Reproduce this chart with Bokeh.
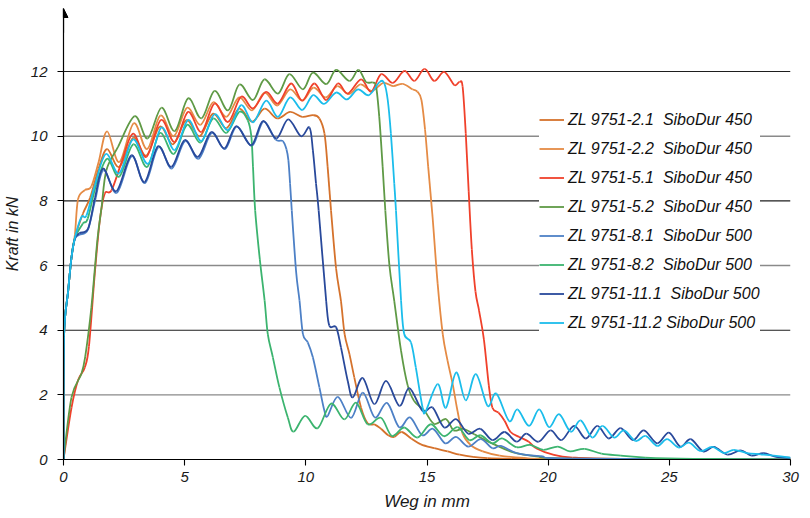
import numpy as np
from bokeh.plotting import figure
from bokeh.models import (Range1d, FixedTicker, Span, Arrow, NormalHead, Legend,
                          LegendItem, ColumnDataSource)
from bokeh.embed import file_html
from bokeh.resources import INLINE

# ---------------- data (x in mm, y in kN) ----------------
NAMES = ["ZL 9751-2.1  SiboDur 450", "ZL 9751-2.2  SiboDur 450",
         "ZL 9751-5.1  SiboDur 450", "ZL 9751-5.2  SiboDur 450",
         "ZL 9751-8.1  SiboDur 500", "ZL 9751-8.2  SiboDur 500",
         "ZL 9751-11.1  SiboDur 500", "ZL 9751-11.2 SiboDur 500"]
COLORS = ["#D5722C", "#E58B45", "#F0412B", "#5F9A46",
          "#4D80C6", "#3CB46F", "#29499B", "#1BBDEB"]

S21 = [(0, 0), (0.02, 3.8), (0.19, 5.2), (0.33, 6.25), (0.47, 6.85), (0.8, 7.6), (1.1, 8.1),
       (1.45, 9.0), (1.8, 9.6), (2.3, 9.05), (2.88, 9.95), (3.42, 9.4), (3.98, 10.3), (4.52, 9.75),
       (5.07, 10.5), (5.62, 10.0), (6.17, 10.7), (6.72, 10.25), (7.25, 10.85), (7.78, 10.45),
       (8.3, 10.85), (8.82, 10.55), (9.35, 10.75), (9.85, 10.6), (10.3, 10.65), (10.56, 10.55),
       (10.77, 10.08), (10.9, 9.05), (11.04, 7.7), (11.25, 5.9), (11.45, 4.9), (11.6, 3.88),
       (11.8, 3.26), (12.0, 2.54), (12.28, 1.6), (12.55, 1.12), (12.85, 1.08), (13.1, 0.95),
       (13.4, 0.75), (13.65, 0.7), (13.95, 0.85), (14.35, 0.65), (14.75, 0.47), (15.3, 0.35),
       (15.85, 0.25), (16.35, 0.15), (16.9, 0.08), (17.5, 0.04), (18.5, 0.02), (20, 0.01), (30, 0)]

S22 = [(0, 0), (0.02, 3.8), (0.19, 5.2), (0.33, 6.25), (0.47, 6.95), (0.6, 8.05), (0.88, 8.33),
       (1.15, 8.45), (1.45, 9.2), (1.8, 10.15), (2.3, 9.2), (2.9, 10.4), (3.45, 9.6), (4.0, 10.64),
       (4.55, 10.0), (5.1, 10.88), (5.65, 10.35), (6.18, 11.05), (6.72, 10.6), (7.25, 11.2),
       (7.78, 10.8), (8.3, 11.35), (8.82, 10.95), (9.35, 11.45), (9.85, 11.1), (10.32, 11.5),
       (10.82, 11.2), (11.3, 11.55), (11.78, 11.3), (12.25, 11.6), (12.72, 11.4), (13.2, 11.65),
       (13.6, 11.55), (14.0, 11.62), (14.4, 11.45), (14.6, 11.38), (14.77, 11.12), (14.92, 10.2),
       (15.05, 9.05), (15.23, 7.5), (15.44, 5.43), (15.65, 3.88), (15.85, 3.05), (16.06, 2.33),
       (16.26, 1.5), (16.47, 0.8), (16.8, 0.45), (17.3, 0.25), (18.0, 0.12), (19.0, 0.05),
       (20.5, 0.02), (30, 0)]

S51 = [(0, 0), (0.33, 1.6), (0.6, 2.45), (0.88, 2.85), (1.05, 3.5), (1.29, 5.74), (1.5, 7.4),
       (1.7, 8.22), (1.98, 8.32), (2.4, 9.2), (2.87, 10.08), (3.42, 9.36), (4.02, 10.5),
       (4.59, 9.82), (5.14, 10.75), (5.69, 10.13), (6.23, 11.01), (6.79, 10.44), (7.33, 11.22),
       (7.82, 10.86), (8.36, 11.37), (8.85, 11.01), (9.39, 11.63), (9.85, 11.1), (10.35, 11.63),
       (10.84, 11.12), (11.32, 11.63), (11.73, 11.32), (12.28, 11.76), (12.69, 11.37),
       (13.11, 11.92), (13.59, 11.65), (14.07, 12.02), (14.48, 11.71), (14.9, 12.08),
       (15.3, 11.71), (15.71, 11.99), (16.13, 11.58), (16.34, 11.68), (16.47, 11.53),
       (16.6, 10.08), (16.72, 8.3), (16.85, 6.5), (17.0, 5.2), (17.15, 4.6), (17.35, 3.7),
       (17.55, 2.3), (17.7, 1.6), (17.95, 1.45), (18.2, 1.2), (18.45, 0.85), (18.8, 0.7),
       (19.2, 0.55), (19.5, 0.35), (20.2, 0.15), (21.0, 0.06), (23.0, 0.02), (30, 0)]

S52 = [(0, 0), (0.33, 1.92), (0.74, 2.65), (0.9, 3.2), (1.15, 4.7), (1.4, 6.8), (1.57, 7.8),
       (1.77, 8.95), (2.25, 9.67), (2.94, 10.62), (3.47, 9.93), (4.04, 10.88), (4.59, 10.16),
       (5.14, 11.17), (5.69, 10.55), (6.23, 11.4), (6.79, 10.8), (7.26, 11.6), (7.82, 11.12),
       (8.29, 11.76), (8.85, 11.32), (9.32, 11.92), (9.88, 11.45), (10.29, 11.97), (10.84, 11.61),
       (11.25, 12.05), (11.8, 11.71), (12.17, 12.05), (12.48, 11.68), (12.76, 11.66),
       (12.9, 11.53), (13.03, 10.6), (13.17, 9.05), (13.28, 7.7), (13.45, 6.0), (13.65, 4.9),
       (13.93, 3.36), (14.2, 2.3), (14.47, 1.81), (14.9, 1.5), (15.3, 1.1), (15.78, 1.25),
       (16.1, 0.9), (16.5, 0.95), (16.95, 0.78), (17.4, 0.6), (17.77, 0.47), (18.6, 0.21),
       (19.5, 0.1), (21, 0.03), (30, 0)]

S81 = [(0, 0), (0.02, 3.8), (0.19, 5.2), (0.33, 6.25), (0.47, 6.83), (0.66, 6.95), (1.0, 7.1),
       (1.3, 8.0), (1.65, 8.95), (2.2, 8.25), (2.82, 9.38), (3.36, 8.55), (3.92, 9.66), (4.47, 9.0),
       (5.02, 9.85), (5.57, 9.3), (6.12, 10.1), (6.66, 9.6), (7.15, 10.3), (7.77, 9.7),
       (8.25, 10.45), (8.75, 9.9), (9.05, 9.85), (9.2, 9.6), (9.28, 9.26), (9.35, 8.53),
       (9.42, 7.7), (9.6, 5.8), (9.74, 4.91), (9.88, 3.88), (10.08, 3.62), (10.29, 3.16),
       (10.56, 2.23), (10.77, 1.5), (10.9, 1.35), (11.32, 1.94), (11.87, 1.29), (12.35, 2.07),
       (12.85, 1.3), (13.35, 1.75), (13.85, 1.0), (14.3, 1.3), (14.8, 0.75), (15.25, 0.95),
       (15.75, 0.5), (16.2, 0.7), (16.7, 0.4), (17.22, 0.63), (17.7, 0.35), (18.05, 0.42),
       (18.7, 0.2), (19.7, 0.1), (21, 0.03), (30, 0)]

S82 = [(0, 0), (0.02, 3.8), (0.19, 5.2), (0.33, 6.25), (0.47, 6.85), (0.8, 7.3), (1.0, 7.45),
       (1.35, 8.5), (1.8, 9.3), (2.3, 8.75), (2.88, 9.75), (3.45, 9.05), (3.98, 10.1), (4.55, 9.45),
       (5.1, 10.35), (5.65, 9.8), (6.18, 10.55), (6.72, 10.1), (7.25, 10.75), (7.6, 10.5),
       (7.75, 10.0), (7.82, 9.05), (7.91, 7.7), (8.1, 6.2), (8.3, 4.91), (8.43, 3.88),
       (8.64, 3.16), (8.91, 2.23), (9.26, 1.29), (9.5, 0.86), (9.97, 1.35), (10.49, 0.97),
       (11.04, 1.73), (11.59, 1.24), (12.07, 1.76), (12.55, 1.09), (13.1, 1.29), (13.55, 0.73),
       (14.06, 0.99), (14.6, 0.68), (15.16, 1.09), (15.7, 0.72), (16.26, 1.0), (16.75, 0.6),
       (17.2, 0.75), (17.7, 0.5), (18.1, 0.65), (18.7, 0.38), (19.25, 0.45), (19.8, 0.3),
       (20.4, 0.4), (20.9, 0.25), (21.5, 0.33), (22.2, 0.18), (23.0, 0.12), (24.0, 0.06),
       (26.0, 0.02), (30, 0)]

S111 = [(0, 0), (0.02, 3.8), (0.19, 5.2), (0.33, 6.25), (0.47, 6.83), (0.66, 7.0), (1.02, 7.15),
        (1.3, 8.1), (1.63, 9.0), (2.18, 8.3), (2.8, 9.41), (3.34, 8.58), (3.9, 9.69), (4.45, 9.05),
        (5.0, 9.88), (5.55, 9.36), (6.1, 10.13), (6.64, 9.62), (7.13, 10.31), (7.75, 9.72),
        (8.23, 10.47), (8.78, 9.93), (9.27, 10.52), (9.8, 10.0), (10.15, 10.27), (10.29, 9.57),
        (10.42, 8.54), (10.53, 7.7), (10.84, 4.9), (10.97, 4.14), (11.25, 4.09), (11.45, 3.47),
        (11.73, 2.43), (11.94, 1.92), (12.35, 2.52), (12.83, 1.71), (13.31, 2.43), (13.86, 1.66),
        (14.27, 2.21), (14.82, 1.5), (15.23, 1.61), (15.71, 0.99), (16.2, 1.25), (16.7, 0.8),
        (17.2, 0.95), (17.7, 0.6), (18.2, 0.85), (18.7, 0.55), (19.1, 0.8), (19.6, 0.55),
        (20.1, 0.9), (20.55, 0.6), (21.07, 1.04), (21.55, 0.65), (22.03, 1.04), (22.5, 0.65),
        (22.99, 0.97), (23.5, 0.6), (23.95, 0.9), (24.5, 0.5), (24.98, 0.83), (25.45, 0.4),
        (25.88, 0.63), (26.4, 0.25), (26.84, 0.39), (27.4, 0.15), (27.94, 0.28), (28.4, 0.12),
        (28.9, 0.2), (29.4, 0.08), (30, 0.05)]

S112 = [(0, 0), (0.02, 3.8), (0.19, 5.2), (0.33, 6.25), (0.47, 6.85), (0.74, 7.5), (0.95, 7.55),
        (1.3, 8.5), (1.75, 9.45), (2.3, 8.85), (2.87, 9.9), (3.49, 9.15), (4.04, 10.27),
        (4.59, 9.57), (5.14, 10.5), (5.69, 9.85), (6.23, 10.68), (6.79, 10.19), (7.33, 10.96),
        (7.82, 10.43), (8.36, 11.1), (8.85, 10.6), (9.35, 11.2), (9.85, 10.81), (10.3, 11.27),
        (10.75, 11.0), (11.25, 11.35), (11.7, 11.14), (12.15, 11.45), (12.6, 11.27),
        (13.05, 11.68), (13.24, 11.63), (13.38, 11.12), (13.51, 10.08), (13.65, 8.53),
        (13.72, 7.7), (13.93, 4.91), (14.06, 3.88), (14.34, 3.62), (14.54, 2.84), (14.82, 1.6),
        (14.95, 1.5), (15.44, 2.33), (15.78, 1.6), (16.2, 2.69), (16.6, 1.83), (17.02, 2.64),
        (17.5, 1.66), (17.86, 2.04), (18.39, 1.19), (18.73, 1.55), (19.21, 1.04), (19.63, 1.55),
        (20.04, 1.0), (20.45, 1.4), (20.93, 0.86), (21.34, 1.21), (21.82, 0.68), (22.24, 1.04),
        (22.72, 0.68), (23.13, 0.9), (23.61, 0.57), (24.02, 0.73), (24.5, 0.42), (24.91, 0.63),
        (25.39, 0.37), (25.81, 0.52), (26.29, 0.26), (26.77, 0.39), (27.25, 0.2), (27.66, 0.3),
        (28.2, 0.2), (28.76, 0.16), (29.3, 0.12), (30, 0.06)]

SERIES = [S21, S22, S51, S52, S81, S82, S111, S112]

X_TICKS = [0, 5, 10, 15, 20, 25, 30]
Y_TICKS = [0, 2, 4, 6, 8, 10, 12]
GRID_Y = [2, 4, 6, 8, 10, 12]
GRID_COLORS = ["#8a8a8a", "#1e1e1e", "#8a8a8a", "#1e1e1e", "#8a8a8a", "#1e1e1e"]

FONT = "Liberation Sans"


def smooth_source(points):
    """Smoothed (Catmull-Rom style) Bezier segments through the data points."""
    pts = np.asarray(points, dtype=float)
    x, y = pts[:, 0], pts[:, 1]
    n = len(x)
    xp = np.concatenate([[x[0]], x, [x[-1]]])
    yp = np.concatenate([[y[0]], y, [y[-1]]])
    cx0 = x[:-1] + (xp[2:n + 1] - xp[0:n - 1]) / 6.0
    cy0 = y[:-1] + (yp[2:n + 1] - yp[0:n - 1]) / 6.0
    cx1 = x[1:] - (xp[3:n + 2] - xp[1:n]) / 6.0
    cy1 = y[1:] - (yp[3:n + 2] - yp[1:n]) / 6.0
    return ColumnDataSource(dict(x0=x[:-1], y0=y[:-1], x1=x[1:], y1=y[1:],
                                 cx0=cx0, cy0=cy0, cx1=cx1, cy1=cy1))


p = figure(width=810, height=518, x_range=Range1d(0, 30), y_range=Range1d(0, 13.95),
           output_backend="svg", toolbar_location=None,
           min_border_left=62, min_border_right=20, min_border_top=8, min_border_bottom=59)
p.title.visible = False
p.outline_line_color = None
p.background_fill_color = "white"
p.border_fill_color = "white"
p.xgrid.visible = False
p.ygrid.visible = False

for v, c in zip(GRID_Y, GRID_COLORS):
    p.add_layout(Span(location=v, dimension="width", line_color=c,
                      line_width=1.4 if c == "#8a8a8a" else 1.1, level="underlay"))

items = []
for name, col, pts in zip(NAMES, COLORS, SERIES):
    r = p.bezier(x0="x0", y0="y0", x1="x1", y1="y1", cx0="cx0", cy0="cy0",
                 cx1="cx1", cy1="cy1", source=smooth_source(pts),
                 line_color=col, line_width=1.8)
    items.append(LegendItem(label=name, renderers=[r]))

legend = Legend(items=items, location=(476, 122), orientation="vertical",
                label_text_font=FONT, label_text_font_style="italic",
                label_text_font_size="16px", label_text_color="#111111",
                glyph_width=25, glyph_height=29, label_height=29, label_standoff=4,
                spacing=0, padding=8, margin=0,
                background_fill_color="white", background_fill_alpha=1.0,
                border_line_color=None)
p.add_layout(legend, "center")

for ax in (p.xaxis[0], p.yaxis[0]):
    ax.axis_line_color = "black"
    ax.axis_line_width = 1.2
    ax.major_tick_line_color = "black"
    ax.major_tick_line_width = 1.1
    ax.major_tick_in = 0
    ax.major_tick_out = 6
    ax.minor_tick_line_color = None
    ax.major_label_text_font = FONT
    ax.major_label_text_font_style = "italic"
    ax.major_label_text_font_size = "15px"
    ax.major_label_text_color = "#1a1a1a"
    ax.axis_label_text_font = FONT
    ax.axis_label_text_font_style = "italic"
    ax.axis_label_text_color = "#1a1a1a"

p.xaxis[0].ticker = FixedTicker(ticks=X_TICKS)
p.yaxis[0].ticker = FixedTicker(ticks=Y_TICKS)
p.xaxis[0].axis_label = "Weg in mm"
p.yaxis[0].axis_label = "Kraft in kN"
p.xaxis[0].axis_label_text_font_size = "17px"
p.yaxis[0].axis_label_text_font_size = "16px"
p.xaxis[0].major_label_standoff = 6
p.yaxis[0].major_label_standoff = 10
p.xaxis[0].axis_label_standoff = 7
p.yaxis[0].axis_label_standoff = 7

p.add_layout(Arrow(end=NormalHead(size=9, fill_color="black", line_color="black", line_width=1),
                   x_start=0, y_start=13.2, x_end=0, y_end=13.95,
                   line_color="black", line_width=1.2))

open("out.html", "w").write(file_html(p, INLINE))
